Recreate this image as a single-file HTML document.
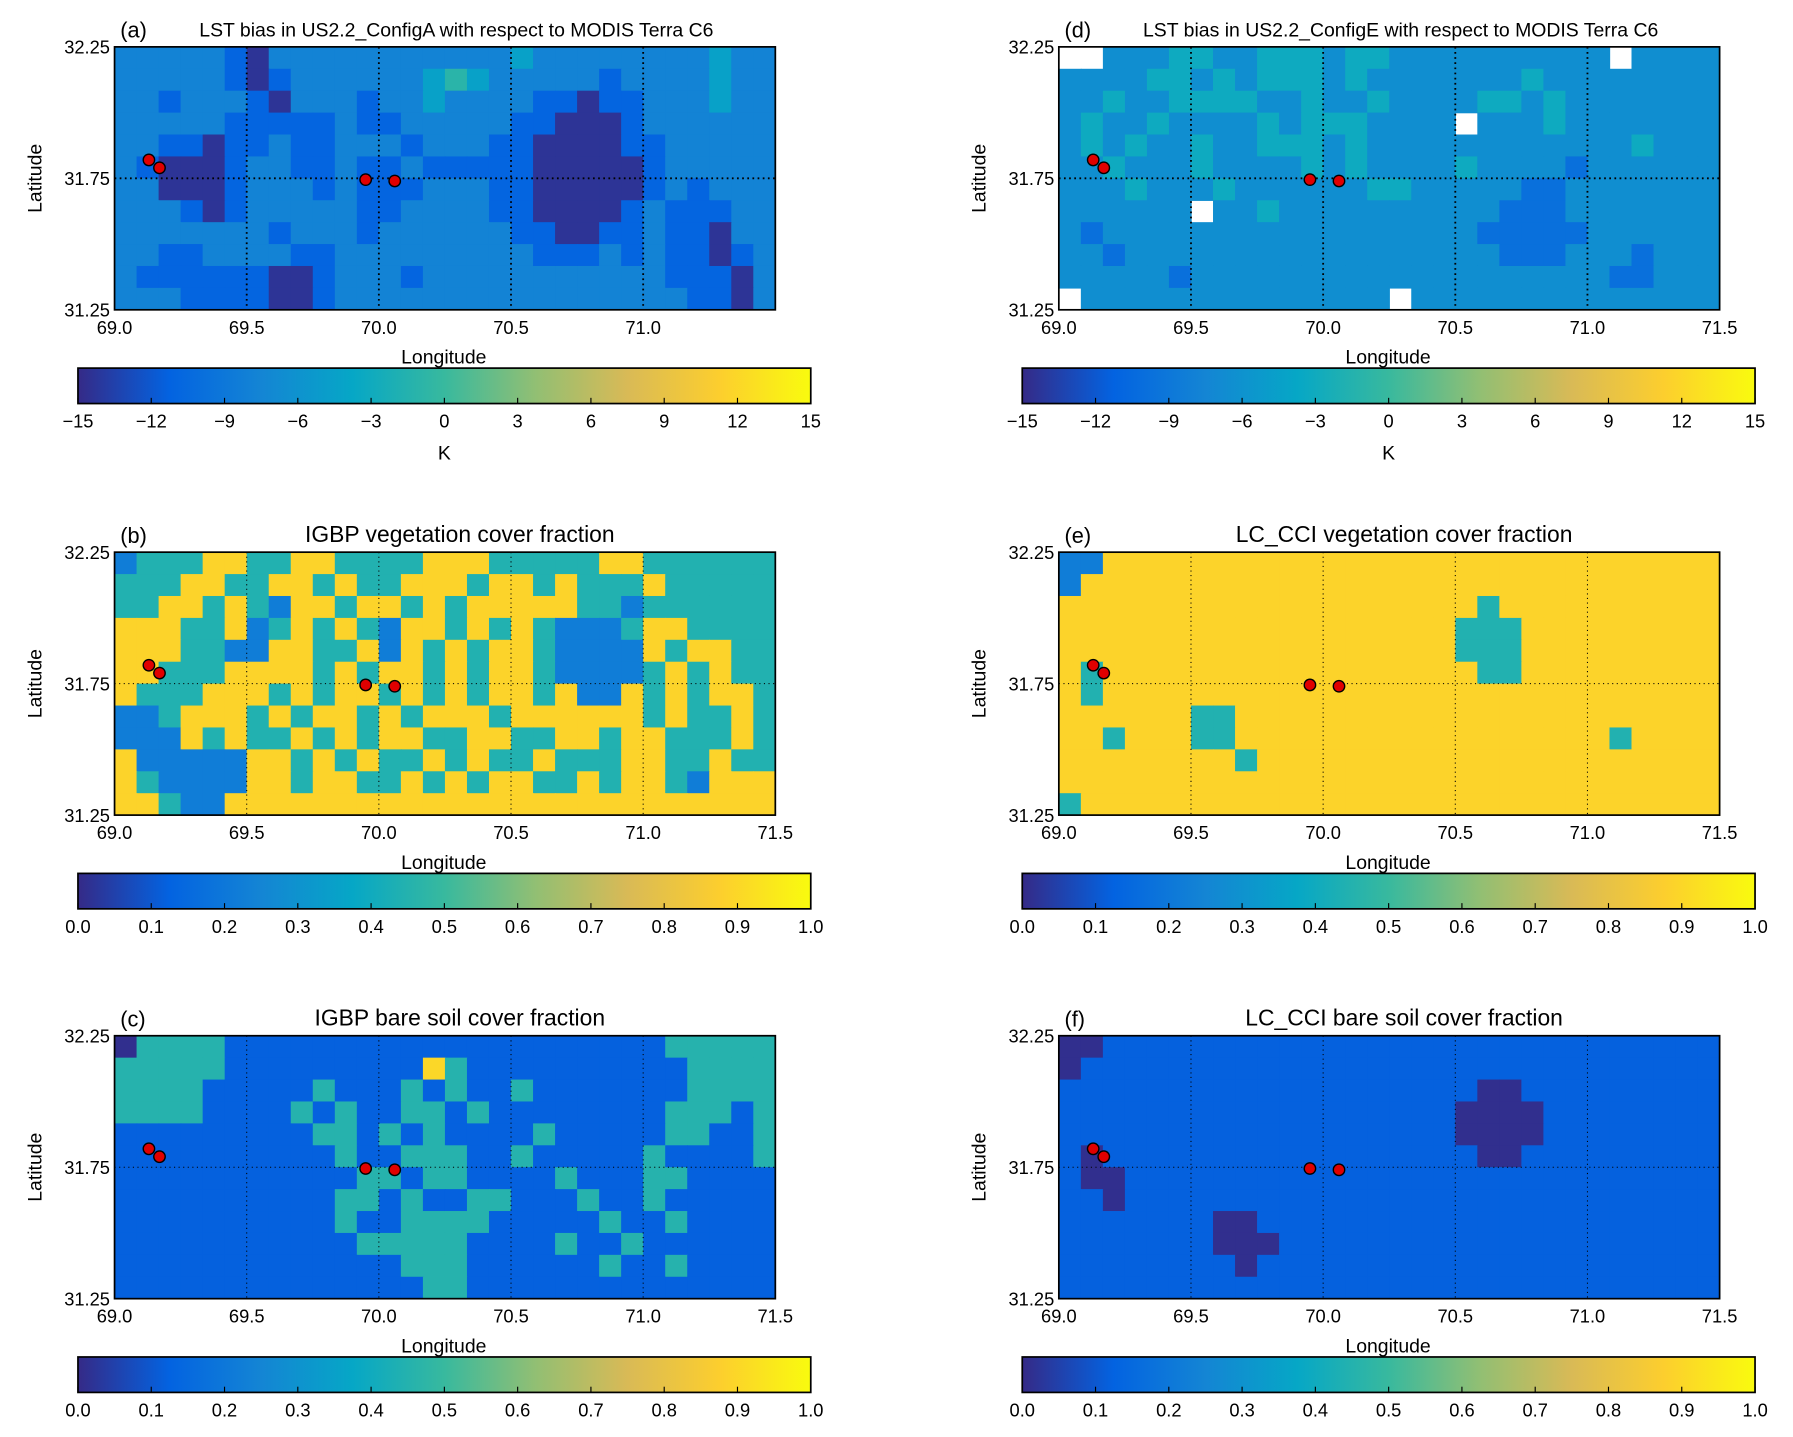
<!DOCTYPE html>
<html><head><meta charset="utf-8"><style>
html,body{margin:0;padding:0;background:#fff;}
svg{display:block;font-family:"Liberation Sans",sans-serif;}
</style></head><body>
<svg id="fig" width="1793" height="1437" viewBox="0 0 1568 1257" xmlns="http://www.w3.org/2000/svg">
<defs>
<linearGradient id="parula" x1="0" x2="1" y1="0" y2="0">
<stop offset="0" stop-color="rgb(53,42,135)"/>
<stop offset="0.125" stop-color="rgb(3,99,225)"/>
<stop offset="0.25" stop-color="rgb(20,133,212)"/>
<stop offset="0.375" stop-color="rgb(6,167,198)"/>
<stop offset="0.5" stop-color="rgb(56,185,158)"/>
<stop offset="0.625" stop-color="rgb(146,191,115)"/>
<stop offset="0.75" stop-color="rgb(217,186,86)"/>
<stop offset="0.875" stop-color="rgb(252,206,46)"/>
<stop offset="1" stop-color="rgb(249,251,14)"/>
</linearGradient>
</defs>
</svg>
<script>
const panelA=["333332133333333333433333333433","333332123333334543333323333433","332333213332334333322122333433","333332222232233333221112333333","332212232233323332211112233333","321112332232232222211111233333","331112333232223332211111232333","333212333332233332211112322233","333333323332333333221122322133","332233332233333333322232322123","322222211233323333333333322213","333222211233333333333333332213"];
const panelB=["244488448844448884444488444444","444884488484488848848444844444","448848428848848488888442444444","888448248484288484842224884444","888442288448284848842222848844","884448888484884848842222484844","844488848488484848848228484884","224888484884848884888888484484","222848448484884488448848844484","822222884848448484484448844844","842222884884484848844848842888","884228888888888888888888888888"];
const panelC=["044441111111111111111111144444","444441111111118411111111114444","444411111411141411411111114444","444411114141144141111111144414","111111111441414111141111144114","111111111141144411411111411114","111111111114414411114111441111","111111111144141144111411411111","111111111141144441111141141111","111111111114444411114114111111","111111111111144411111141141111","111111111111114411111111111111"];
const panelD=["--33344334443443333333333-3333","333344343444343333333433333333","334334444334334333344343333333","343343333434443333-33343333333","343433433444343333333333334333","334333433334343333433332333333","333433343333334433333223333333","333333-33433333333332223333333","323333333333333333322222333333","332333333333333333332223332333","333332333333333333333333322333","-33333333333333-33333333333333"];
const panelE=["228888888888888888888888888888","288888888888888888888888888888","888888888888888888848888888888","888888888888888888444888888888","888888888888888888444888888888","848888888888888888844888888888","848888888888888888888888888888","888888448888888888888888888888","884888448888888888888888848888","888888884888888888888888888888","888888888888888888888888888888","488888888888888888888888888888"];
const panelF=["001111111111111111111111111111","011111111111111111111111111111","111111111111111111100111111111","111111111111111111000011111111","111111111111111111000011111111","101111111111111111100111111111","100111111111111111111111111111","110111111111111111111111111111","111111100111111111111111111111","111111100011111111111111111111","111111110111111111111111111111","111111111111111111111111111111"];
const siteLon=[69.13,69.17,69.95,70.06];
const siteLat=[31.82,31.79,31.745,31.74];
const lonTicks=[69.0,69.5,70.0,70.5,71.0,71.5];
const latTicks=[31.25,31.75,32.25];
const kTicks=[-15,-12,-9,-6,-3,0,3,6,9,12,15];
const fracTicks=[0.0,0.1,0.2,0.3,0.4,0.5,0.6,0.7,0.8,0.9,1.0];

const NS="http://www.w3.org/2000/svg";
const svg=document.getElementById('fig');
const stops=[[0,53,42,135],[0.125,3,99,225],[0.25,20,133,212],[0.375,6,167,198],[0.5,56,185,158],[0.625,146,191,115],[0.75,217,186,86],[0.875,252,206,46],[1,249,251,14]];
function cmap(v){v=Math.max(0,Math.min(1,v));for(let i=1;i<stops.length;i++){if(v<=stops[i][0]){const a=stops[i-1],b=stops[i],t=(v-a[0])/(b[0]-a[0]);return `rgb(${Math.round(a[1]+t*(b[1]-a[1]))},${Math.round(a[2]+t*(b[2]-a[2]))},${Math.round(a[3]+t*(b[3]-a[3]))})`;}}return 'rgb(249,251,14)';}
function mk(tag,attrs,parent){const e=document.createElementNS(NS,tag);for(const k in attrs)e.setAttribute(k,attrs[k]);(parent||svg).appendChild(e);return e;}
function txt(s,attrs,parent){const e=mk('text',attrs,parent);e.textContent=s;return e;}

const panels=[
 {id:'a',grid:panelA,x:100,y:41,title:'LST bias in US2.2_ConfigA with respect to MODIS Terra C6',small:true,ticks:kTicks,unit:'K',lonMax:71.0,off:-0.09},
 {id:'b',grid:panelB,x:100,y:483,title:'IGBP vegetation cover fraction',ticks:fracTicks,off:0},
 {id:'c',grid:panelC,x:100,y:906,title:'IGBP bare soil cover fraction',ticks:fracTicks,off:0.01},
 {id:'d',grid:panelD,x:926,y:41,title:'LST bias in US2.2_ConfigE with respect to MODIS Terra C6',small:true,ticks:kTicks,unit:'K',off:-0.05},
 {id:'e',grid:panelE,x:926,y:483,title:'LC_CCI vegetation cover fraction',ticks:fracTicks,off:0},
 {id:'f',grid:panelF,x:926,y:906,title:'LC_CCI bare soil cover fraction',ticks:fracTicks,off:0.01}
];
const W=578,H=230;
panels.forEach(p=>{
 const g=mk('g',{});
 
 
 const xs=lon=>p.x+(lon-69)/2.5*W;
 const ys=lat=>p.y+(32.25-lat)/1.0*H;
 const rows=p.grid.length,cols=p.grid[0].length;
 const cw=W/cols,ch=H/rows;
 const hm=mk('g',{},g);
 
 
 p.grid.forEach((row,r)=>{for(let c=0;c<cols;c++){const chr=row[c]||row[row.length-1];if(chr==='-')continue;const v=parseInt(chr)/9+p.off;
  const cell=mk('rect',{x:p.x+c*cw,y:p.y+r*ch,width:cw+0.6,height:ch+0.6,fill:cmap(v)},hm);
  
  }});
 [69.5,70.0,70.5,71.0].forEach(l=>{const ln=mk('line',{x1:xs(l),x2:xs(l),y1:p.y,y2:p.y+H,stroke:'#000','stroke-width':p.small?1.6:0.9,'stroke-dasharray':p.small?'1.5,3':'1,3'},g);
  
  });
 const pl=mk('line',{x1:p.x,x2:p.x+W,y1:ys(31.75),y2:ys(31.75),stroke:'#000','stroke-width':p.small?1.6:0.9,'stroke-dasharray':p.small?'1.5,3':'1,3'},g);
 
 
 const fr=mk('rect',{x:p.x,y:p.y,width:W,height:H,fill:'none',stroke:'#000','stroke-width':1.5},g);
 
 
 siteLon.forEach((lo,i)=>{const d=mk('circle',{cx:xs(lo),cy:ys(siteLat[i]),r:5,fill:'#e00000',stroke:'#000','stroke-width':1.2},g);
  
  });
 lonTicks.forEach(l=>{if(p.lonMax&&l>p.lonMax)return;const t=txt(l.toFixed(1),{x:xs(l),y:p.y+H+21,'font-size':16,'text-anchor':'middle'},g);
  
  });
 latTicks.forEach(l=>{const t=txt(l.toFixed(2),{x:p.x-4,y:ys(l)+6,'font-size':16,'text-anchor':'end'},g);
  
  });
 const xl=txt('Longitude',{x:p.x+288,y:p.y+H+47,'font-size':17,'text-anchor':'middle'},g);
 
 
 const yl=txt('Latitude',{x:0,y:0,'font-size':17,'text-anchor':'middle',transform:`translate(${p.x-64},${p.y+H/2}) rotate(-90)`},g);
 
 
 const lab=txt('('+p.id+')',{x:p.x+5,y:p.y-8,'font-size':19},g);
 
 
 const tt=txt(p.title,{x:p.small?p.x+299:p.x+302,y:p.y-9,'font-size':p.small?17:20,'text-anchor':'middle'},g);
 
 
 const cbx=p.x-32,cby=p.y+H+51,cbw=641,cbh=31;
 const cb=mk('rect',{x:cbx,y:cby,width:cbw,height:cbh,fill:'url(#parula)',stroke:'#000','stroke-width':1.5},g);
 
 
 const tmin=p.ticks[0],tmax=p.ticks[p.ticks.length-1];
 p.ticks.forEach(t=>{const x=cbx+(t-tmin)/(tmax-tmin)*cbw;
  mk('line',{x1:x,x2:x,y1:cby+cbh,y2:cby+cbh-5,stroke:'#000','stroke-width':1},g);
  const s=p.unit?(t<0?'\u2212'+Math.abs(t):String(t)):t.toFixed(1);
  const e=txt(s,{x:x,y:cby+cbh+21,'font-size':16,'text-anchor':'middle'},g);
  
  });
 if(p.unit){const u=txt(p.unit,{x:cbx+cbw/2,y:cby+cbh+49,'font-size':17,'text-anchor':'middle'},g);
  
  }
});
</script>
</body></html>
